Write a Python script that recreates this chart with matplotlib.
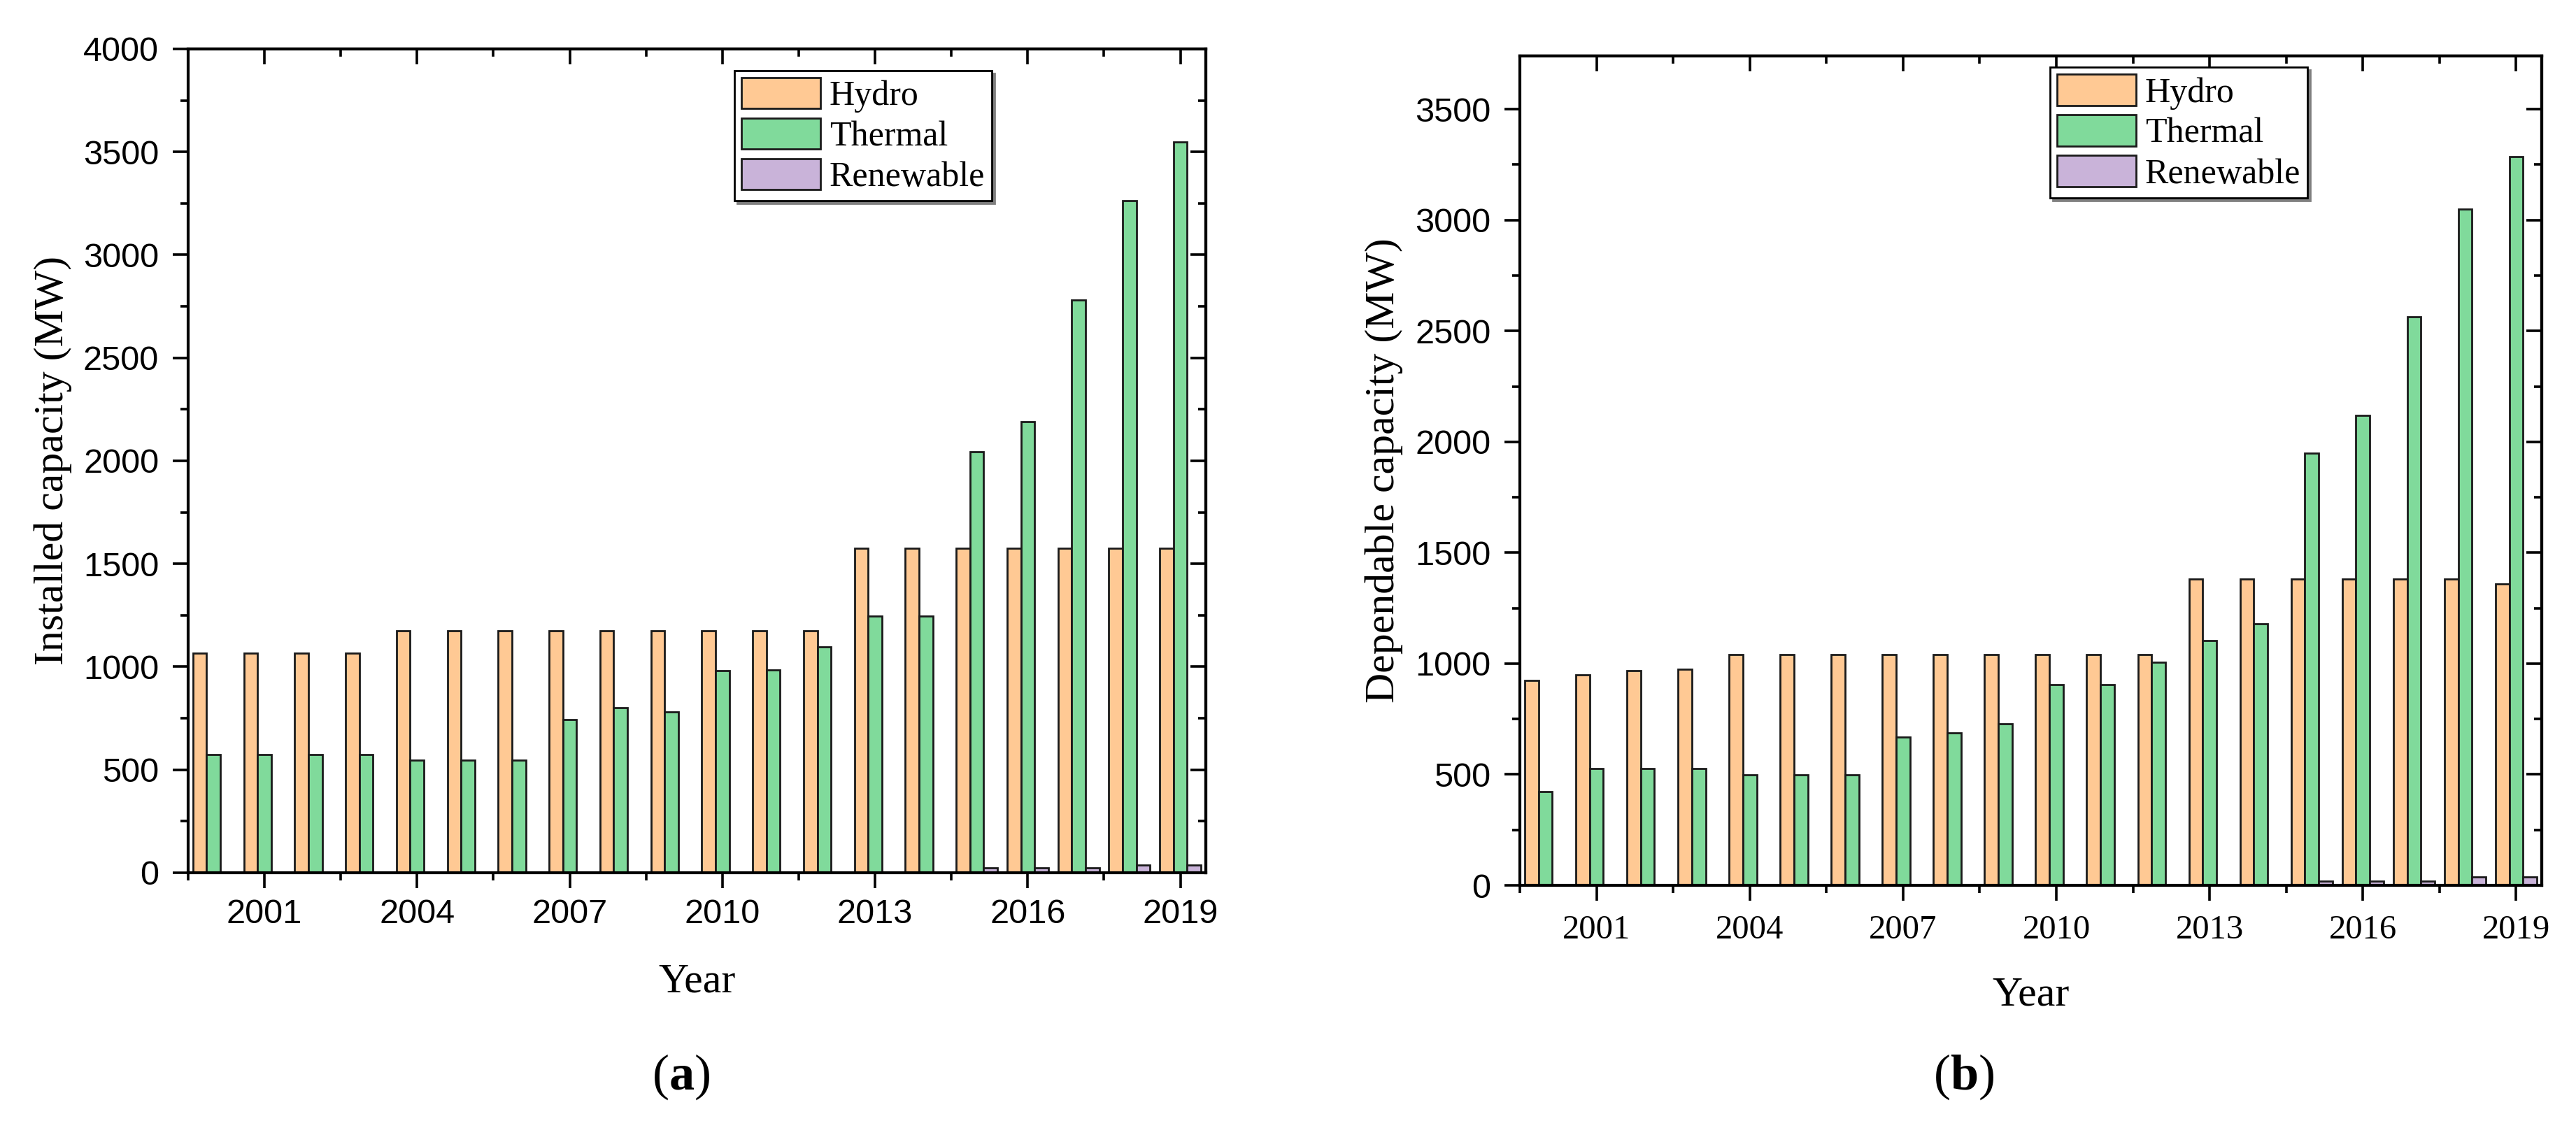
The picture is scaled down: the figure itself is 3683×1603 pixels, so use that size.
import matplotlib
matplotlib.use("Agg")
import matplotlib.pyplot as plt
import numpy as np

plt.rcParams['mathtext.fontset'] = 'custom'
plt.rcParams['mathtext.rm'] = 'Liberation Serif'
plt.rcParams['mathtext.bf'] = 'Liberation Serif:bold'

years = np.arange(2000, 2020)
series_names = ['Hydro', 'Thermal', 'Renewable']
colors = ['#FFC994', '#80DA9B', '#C9B3D9']

# (a) installed capacity (MW)
inst_hydro = [1065, 1065, 1065, 1065, 1175, 1175, 1175, 1175, 1175, 1175,
              1175, 1175, 1175, 1575, 1575, 1575, 1575, 1575, 1575, 1575]
inst_thermal = [575, 575, 575, 575, 545, 545, 545, 745, 800, 782,
                980, 985, 1095, 1245, 1245, 2045, 2190, 2782, 3262, 3548]
inst_renew = [0, 0, 0, 0, 0, 0, 0, 0, 0, 0,
              0, 0, 0, 0, 0, 22, 22, 22, 36, 36]

# (b) dependable capacity (MW)
dep_hydro = [925, 948, 968, 976, 1040, 1040, 1040, 1040, 1040, 1040,
             1040, 1040, 1040, 1380, 1380, 1380, 1380, 1380, 1380, 1360]
dep_thermal = [424, 528, 528, 528, 497, 497, 497, 668, 689, 727,
               905, 905, 1005, 1105, 1180, 1950, 2118, 2565, 3050, 3285]
dep_renew = [0, 0, 0, 0, 0, 0, 0, 0, 0, 0,
             0, 0, 0, 0, 0, 20, 20, 20, 38, 38]

xmajor = [2001, 2004, 2007, 2010, 2013, 2016, 2019]
xminor = [1999.5, 2002.5, 2005.5, 2008.5, 2011.5, 2014.5, 2017.5]

SERIF = 'Liberation Serif'
SANS = 'Liberation Sans'
TICK_FS = 35
LABEL_FS = 43

fig = plt.figure(figsize=(36.83, 16.03), dpi=100)


def panel(rect, data, ymax, ylabel, xtick_font, xpad, leg_xy, tag, tag_x):
    ax = fig.add_axes(rect)
    w = 0.27
    for i, vals in enumerate(data):
        ax.bar(years + (i - 1) * w, vals, width=w, color=colors[i],
               edgecolor='#1a1a1a', linewidth=2, label=series_names[i], zorder=2)
    ax.set_xlim(1999.5, 2019.5)
    ax.set_ylim(0, ymax)
    ax.set_xticks(xmajor)
    ax.set_xticks(xminor, minor=True)
    ax.set_yticks(np.arange(0, ymax + 1, 500))
    ax.set_yticks(np.arange(250, ymax, 500), minor=True)
    for s in ax.spines.values():
        s.set_linewidth(3)
    ax.tick_params(which='major', direction='out', length=16, width=2.6)
    ax.tick_params(which='minor', direction='out', length=8, width=2.6)
    ax.tick_params(axis='y', pad=14)
    ax.tick_params(axis='x', pad=xpad)
    for lab in ax.get_yticklabels():
        lab.set_fontfamily(SANS)
        lab.set_fontsize(TICK_FS)
    for lab in ax.get_xticklabels():
        lab.set_fontfamily(xtick_font)
        lab.set_fontsize(TICK_FS)

    # mirrored ticks on top and right, pointing inward
    top = ax.secondary_xaxis('top')
    top.set_xticks(xmajor)
    top.set_xticks(xminor, minor=True)
    top.tick_params(which='major', direction='in', length=16, width=2.6, labeltop=False)
    top.tick_params(which='minor', direction='in', length=8, width=2.6)
    top.spines['top'].set_linewidth(3)
    right = ax.secondary_yaxis('right')
    right.set_yticks(np.arange(0, ymax + 1, 500))
    right.set_yticks(np.arange(250, ymax, 500), minor=True)
    right.tick_params(which='major', direction='in', length=16, width=2.6, labelright=False)
    right.tick_params(which='minor', direction='in', length=8, width=2.6)
    right.spines['right'].set_linewidth(3)

    ax.set_ylabel(ylabel, fontfamily=SERIF, fontsize=LABEL_FS)
    ax.yaxis.set_label_coords(-0.114, 0.5)
    ax.set_xlabel('Year', fontfamily=SERIF, fontsize=LABEL_FS)
    ax.xaxis.set_label_coords(0.5, -0.11)

    leg = ax.legend(loc='upper left', bbox_to_anchor=leg_xy, borderaxespad=0,
                    prop={'family': SERIF, 'size': 36}, frameon=True,
                    fancybox=False, edgecolor='black', framealpha=1,
                    shadow={'ox': 3, 'oy': -3, 'facecolor': '0.5',
                            'edgecolor': '0.5', 'alpha': 1},
                    handlelength=2.26, handleheight=1.0, labelspacing=0.15,
                    handletextpad=0.25, borderpad=0.2)
    leg.get_frame().set_linewidth(2)
    leg.set_zorder(5)

    fig.text(tag_x, 0.039, r'($\mathbf{' + tag + r'}$)', fontfamily=SERIF,
             fontsize=52, ha='center', va='center')
    return ax


panel([0.0730, 0.2215, 0.3951, 0.7349], [inst_hydro, inst_thermal, inst_renew],
      4000, 'Installed capacity (MW)', SANS, 11, (0.537, 0.974), 'a', 0.2642)
panel([0.5900, 0.2102, 0.3967, 0.7399], [dep_hydro, dep_thermal, dep_renew],
      3740, 'Dependable capacity (MW)', SERIF, 14, (0.519, 0.9865), 'b', 0.7624)

fig.savefig('out.png', dpi=100)
